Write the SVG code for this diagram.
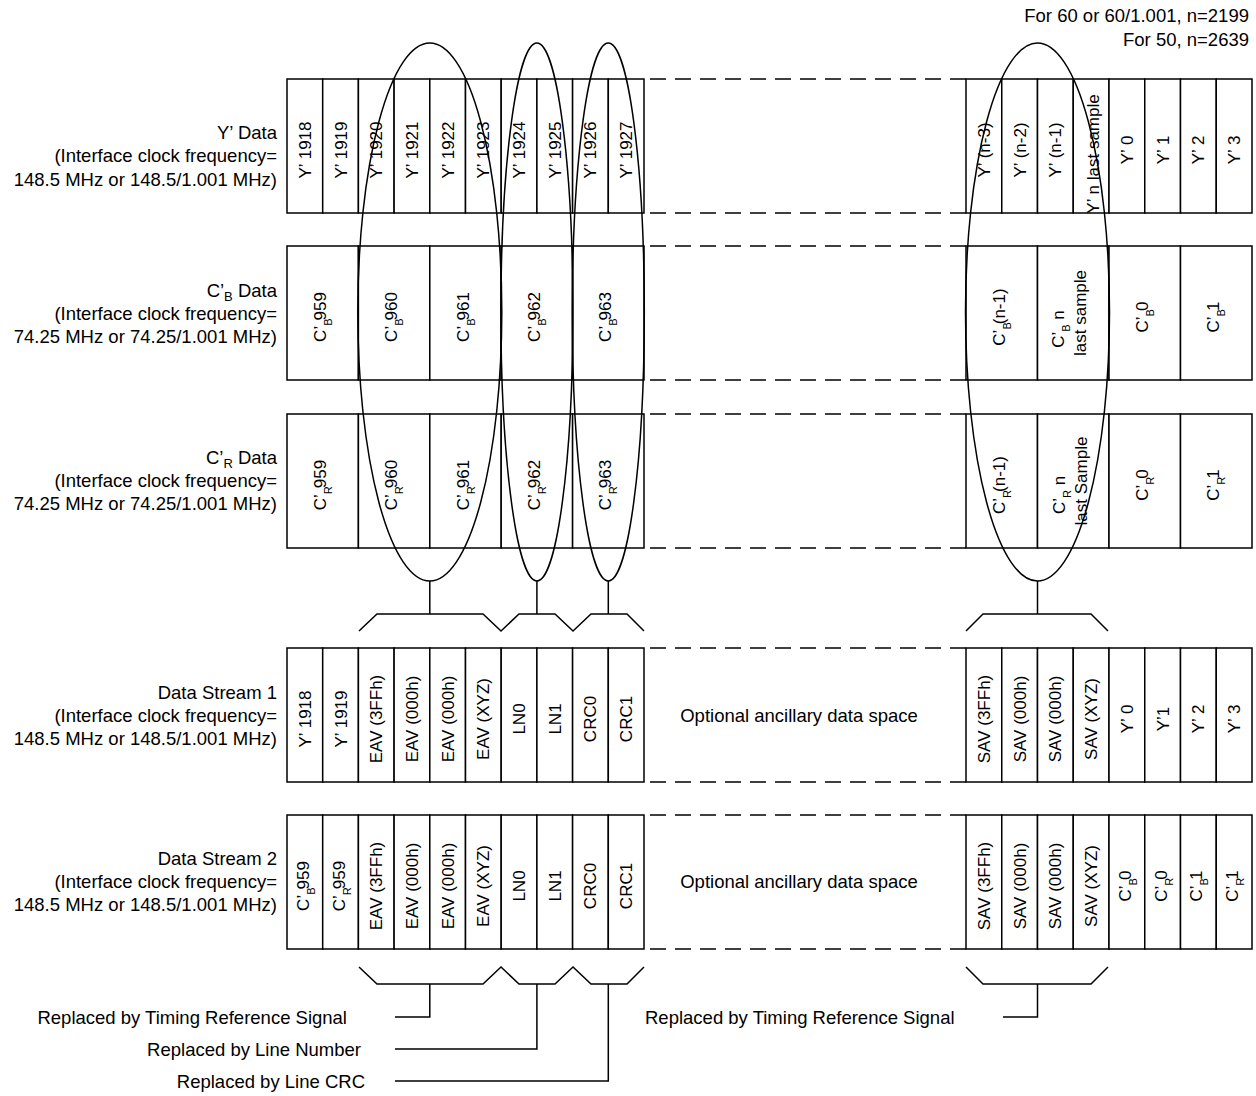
<svg xmlns="http://www.w3.org/2000/svg" width="1256" height="1096" viewBox="0 0 1256 1096">
<style>
.c{fill:#fff;stroke:#000;stroke-width:1.5}
.t{font-family:"Liberation Sans",Arial,sans-serif;font-size:17px;text-anchor:middle;fill:#000}
.l{font-family:"Liberation Sans",Arial,sans-serif;font-size:18.5px;text-anchor:end;fill:#000}
.m{font-family:"Liberation Sans",Arial,sans-serif;font-size:18.5px;text-anchor:middle;fill:#000}
.st{font-family:"Liberation Sans",Arial,sans-serif;font-size:18.5px;text-anchor:start;fill:#000}
.s{font-size:11px}
.d{stroke:#000;stroke-width:1.5;stroke-dasharray:16 9;fill:none}
.k{stroke:#000;stroke-width:1.5;fill:none}
</style>
<rect x="0" y="0" width="1256" height="1096" fill="#fff"/>

<g id="note">
<text class="l" x="1249" y="22">For 60 or 60/1.001, n=2199</text>
<text class="l" x="1249" y="46">For 50, n=2639</text>
</g>

<g id="labels">
<text class="l" x="277" y="139">Y’ Data</text>
<text class="l" x="277" y="162">(Interface clock frequency=</text>
<text class="l" x="277" y="186">148.5 MHz or 148.5/1.001 MHz)</text>
<text class="l" x="277" y="297">C’<tspan font-size="13" dy="4">B</tspan><tspan dy="-4"> Data</tspan></text>
<text class="l" x="277" y="320">(Interface clock frequency=</text>
<text class="l" x="277" y="343">74.25 MHz or 74.25/1.001 MHz)</text>
<text class="l" x="277" y="464">C’<tspan font-size="13" dy="4">R</tspan><tspan dy="-4"> Data</tspan></text>
<text class="l" x="277" y="487">(Interface clock frequency=</text>
<text class="l" x="277" y="510">74.25 MHz or 74.25/1.001 MHz)</text>
<text class="l" x="277" y="699">Data Stream 1</text>
<text class="l" x="277" y="722">(Interface clock frequency=</text>
<text class="l" x="277" y="745">148.5 MHz or 148.5/1.001 MHz)</text>
<text class="l" x="277" y="865">Data Stream 2</text>
<text class="l" x="277" y="888">(Interface clock frequency=</text>
<text class="l" x="277" y="911">148.5 MHz or 148.5/1.001 MHz)</text>
</g>

<!-- Y' data row -->
<g id="row-y">
<g id="y1918"><rect class="c" x="287" y="79" width="35.7" height="134"/><text class="t" transform="translate(310.85,150) rotate(-90)">Y’ 1918</text></g>
<g id="y1919"><rect class="c" x="322.7" y="79" width="35.7" height="134"/><text class="t" transform="translate(346.55,150) rotate(-90)">Y’ 1919</text></g>
<g id="y1920"><rect class="c" x="358.4" y="79" width="35.7" height="134"/><text class="t" transform="translate(382.25,150) rotate(-90)">Y’ 1920</text></g>
<g id="y1921"><rect class="c" x="394.1" y="79" width="35.7" height="134"/><text class="t" transform="translate(417.95,150) rotate(-90)">Y’ 1921</text></g>
<g id="y1922"><rect class="c" x="429.8" y="79" width="35.7" height="134"/><text class="t" transform="translate(453.65,150) rotate(-90)">Y’ 1922</text></g>
<g id="y1923"><rect class="c" x="465.5" y="79" width="35.7" height="134"/><text class="t" transform="translate(489.35,150) rotate(-90)">Y’ 1923</text></g>
<g id="y1924"><rect class="c" x="501.2" y="79" width="35.7" height="134"/><text class="t" transform="translate(525.05,150) rotate(-90)">Y’ 1924</text></g>
<g id="y1925"><rect class="c" x="536.9" y="79" width="35.7" height="134"/><text class="t" transform="translate(560.75,150) rotate(-90)">Y’ 1925</text></g>
<g id="y1926"><rect class="c" x="572.6" y="79" width="35.7" height="134"/><text class="t" transform="translate(596.45,150) rotate(-90)">Y’ 1926</text></g>
<g id="y1927"><rect class="c" x="608.3" y="79" width="35.7" height="134"/><text class="t" transform="translate(632.15,150) rotate(-90)">Y’ 1927</text></g>
<g id="yn3"><rect class="c" x="966" y="79" width="35.75" height="134"/><text class="t" transform="translate(989.9,150) rotate(-90)">Y’ (n-3)</text></g>
<g id="yn2"><rect class="c" x="1001.75" y="79" width="35.75" height="134"/><text class="t" transform="translate(1025.6,150) rotate(-90)">Y’ (n-2)</text></g>
<g id="yn1"><rect class="c" x="1037.5" y="79" width="35.75" height="134"/><text class="t" transform="translate(1061.4,150) rotate(-90)">Y’ (n-1)</text></g>
<g id="yn"><rect class="c" x="1073.25" y="79" width="35.75" height="134"/><text class="t" transform="translate(1099,154) rotate(-90)">Y’ n last sample</text></g>
<g id="y0"><rect class="c" x="1109" y="79" width="35.75" height="134"/><text class="t" transform="translate(1132.9,150) rotate(-90)">Y’ 0</text></g>
<g id="y1"><rect class="c" x="1144.75" y="79" width="35.75" height="134"/><text class="t" transform="translate(1168.6,150) rotate(-90)">Y’ 1</text></g>
<g id="y2"><rect class="c" x="1180.5" y="79" width="35.75" height="134"/><text class="t" transform="translate(1204.4,150) rotate(-90)">Y’ 2</text></g>
<g id="y3"><rect class="c" x="1216.25" y="79" width="35.75" height="134"/><text class="t" transform="translate(1240.1,150) rotate(-90)">Y’ 3</text></g>
</g>

<!-- C'B data row -->
<g id="row-cb">
<g id="cb959"><rect class="c" x="287" y="246" width="71.4" height="134"/><text class="t" transform="translate(325.7,317) rotate(-90)">C’<tspan class="s" dy="6">B</tspan><tspan dy="-6" dx="-2">959</tspan></text></g>
<g id="cb960"><rect class="c" x="358.4" y="246" width="71.4" height="134"/><text class="t" transform="translate(397.1,317) rotate(-90)">C’<tspan class="s" dy="6">B</tspan><tspan dy="-6" dx="-2">960</tspan></text></g>
<g id="cb961"><rect class="c" x="429.8" y="246" width="71.4" height="134"/><text class="t" transform="translate(468.5,317) rotate(-90)">C’<tspan class="s" dy="6">B</tspan><tspan dy="-6" dx="-2">961</tspan></text></g>
<g id="cb962"><rect class="c" x="501.2" y="246" width="71.4" height="134"/><text class="t" transform="translate(539.9,317) rotate(-90)">C’<tspan class="s" dy="6">B</tspan><tspan dy="-6" dx="-2">962</tspan></text></g>
<g id="cb963"><rect class="c" x="572.6" y="246" width="71.4" height="134"/><text class="t" transform="translate(611.3,317) rotate(-90)">C’<tspan class="s" dy="6">B</tspan><tspan dy="-6" dx="-2">963</tspan></text></g>
<g id="cbn1"><rect class="c" x="966" y="246" width="71.5" height="134"/><text class="t" transform="translate(1004.75,317) rotate(-90)">C’<tspan class="s" dy="6">B</tspan><tspan dy="-6" dx="-2">(n-1)</tspan></text></g>
<g id="cbn"><rect class="c" x="1037.5" y="246" width="71.5" height="134"/><text class="t" transform="translate(1064,329) rotate(-90)">C’<tspan class="s" dy="6">B</tspan><tspan dy="-6"> n</tspan></text><text class="t" transform="translate(1086,313) rotate(-90)">last sample</text></g>
<g id="cb0"><rect class="c" x="1109" y="246" width="71.5" height="134"/><text class="t" transform="translate(1147.75,317) rotate(-90)">C’<tspan class="s" dy="6">B</tspan><tspan dy="-6" dx="-2">0</tspan></text></g>
<g id="cb1"><rect class="c" x="1180.5" y="246" width="71.5" height="134"/><text class="t" transform="translate(1219.25,317) rotate(-90)">C’<tspan class="s" dy="6">B</tspan><tspan dy="-6" dx="-2">1</tspan></text></g>
</g>

<!-- C'R data row -->
<g id="row-cr">
<g id="cr959"><rect class="c" x="287" y="414" width="71.4" height="134"/><text class="t" transform="translate(325.7,485) rotate(-90)">C’<tspan class="s" dy="6">R</tspan><tspan dy="-6" dx="-2">959</tspan></text></g>
<g id="cr960"><rect class="c" x="358.4" y="414" width="71.4" height="134"/><text class="t" transform="translate(397.1,485) rotate(-90)">C’<tspan class="s" dy="6">R</tspan><tspan dy="-6" dx="-2">960</tspan></text></g>
<g id="cr961"><rect class="c" x="429.8" y="414" width="71.4" height="134"/><text class="t" transform="translate(468.5,485) rotate(-90)">C’<tspan class="s" dy="6">R</tspan><tspan dy="-6" dx="-2">961</tspan></text></g>
<g id="cr962"><rect class="c" x="501.2" y="414" width="71.4" height="134"/><text class="t" transform="translate(539.9,485) rotate(-90)">C’<tspan class="s" dy="6">R</tspan><tspan dy="-6" dx="-2">962</tspan></text></g>
<g id="cr963"><rect class="c" x="572.6" y="414" width="71.4" height="134"/><text class="t" transform="translate(611.3,485) rotate(-90)">C’<tspan class="s" dy="6">R</tspan><tspan dy="-6" dx="-2">963</tspan></text></g>
<g id="crn1"><rect class="c" x="966" y="414" width="71.5" height="134"/><text class="t" transform="translate(1004.75,485) rotate(-90)">C’<tspan class="s" dy="6">R</tspan><tspan dy="-6" dx="-2">(n-1)</tspan></text></g>
<g id="crn"><rect class="c" x="1037.5" y="414" width="71.5" height="134"/><text class="t" transform="translate(1065,495) rotate(-90)">C’<tspan class="s" dy="6">R</tspan><tspan dy="-6"> n</tspan></text><text class="t" transform="translate(1087,481) rotate(-90)">last Sample</text></g>
<g id="cr0"><rect class="c" x="1109" y="414" width="71.5" height="134"/><text class="t" transform="translate(1147.75,485) rotate(-90)">C’<tspan class="s" dy="6">R</tspan><tspan dy="-6" dx="-2">0</tspan></text></g>
<g id="cr1"><rect class="c" x="1180.5" y="414" width="71.5" height="134"/><text class="t" transform="translate(1219.25,485) rotate(-90)">C’<tspan class="s" dy="6">R</tspan><tspan dy="-6" dx="-2">1</tspan></text></g>
</g>

<!-- Data stream 1 -->
<g id="row-ds1">
<g id="ds1-y1918"><rect class="c" x="287" y="648" width="35.7" height="134"/><text class="t" transform="translate(310.85,719) rotate(-90)">Y’ 1918</text></g>
<g id="ds1-y1919"><rect class="c" x="322.7" y="648" width="35.7" height="134"/><text class="t" transform="translate(346.55,719) rotate(-90)">Y’ 1919</text></g>
<g id="ds1-eav1"><rect class="c" x="358.4" y="648" width="35.7" height="134"/><text class="t" transform="translate(382.25,719) rotate(-90)">EAV (3FFh)</text></g>
<g id="ds1-eav2"><rect class="c" x="394.1" y="648" width="35.7" height="134"/><text class="t" transform="translate(417.95,719) rotate(-90)">EAV (000h)</text></g>
<g id="ds1-eav3"><rect class="c" x="429.8" y="648" width="35.7" height="134"/><text class="t" transform="translate(453.65,719) rotate(-90)">EAV (000h)</text></g>
<g id="ds1-eav4"><rect class="c" x="465.5" y="648" width="35.7" height="134"/><text class="t" transform="translate(489.35,719) rotate(-90)">EAV (XYZ)</text></g>
<g id="ds1-ln0"><rect class="c" x="501.2" y="648" width="35.7" height="134"/><text class="t" transform="translate(525.05,719) rotate(-90)">LN0</text></g>
<g id="ds1-ln1"><rect class="c" x="536.9" y="648" width="35.7" height="134"/><text class="t" transform="translate(560.75,719) rotate(-90)">LN1</text></g>
<g id="ds1-crc0"><rect class="c" x="572.6" y="648" width="35.7" height="134"/><text class="t" transform="translate(596.45,719) rotate(-90)">CRC0</text></g>
<g id="ds1-crc1"><rect class="c" x="608.3" y="648" width="35.7" height="134"/><text class="t" transform="translate(632.15,719) rotate(-90)">CRC1</text></g>
<text class="m" x="799" y="722">Optional ancillary data space</text>
<g id="ds1-sav1"><rect class="c" x="966" y="648" width="35.75" height="134"/><text class="t" transform="translate(989.9,719) rotate(-90)">SAV (3FFh)</text></g>
<g id="ds1-sav2"><rect class="c" x="1001.75" y="648" width="35.75" height="134"/><text class="t" transform="translate(1025.6,719) rotate(-90)">SAV (000h)</text></g>
<g id="ds1-sav3"><rect class="c" x="1037.5" y="648" width="35.75" height="134"/><text class="t" transform="translate(1061.4,719) rotate(-90)">SAV (000h)</text></g>
<g id="ds1-sav4"><rect class="c" x="1073.25" y="648" width="35.75" height="134"/><text class="t" transform="translate(1097.1,719) rotate(-90)">SAV (XYZ)</text></g>
<g id="ds1-y0"><rect class="c" x="1109" y="648" width="35.75" height="134"/><text class="t" transform="translate(1132.9,719) rotate(-90)">Y’ 0</text></g>
<g id="ds1-y1"><rect class="c" x="1144.75" y="648" width="35.75" height="134"/><text class="t" transform="translate(1168.6,719) rotate(-90)">Y’1</text></g>
<g id="ds1-y2"><rect class="c" x="1180.5" y="648" width="35.75" height="134"/><text class="t" transform="translate(1204.4,719) rotate(-90)">Y’ 2</text></g>
<g id="ds1-y3"><rect class="c" x="1216.25" y="648" width="35.75" height="134"/><text class="t" transform="translate(1240.1,719) rotate(-90)">Y’ 3</text></g>
</g>

<!-- Data stream 2 -->
<g id="row-ds2">
<g id="ds2-cb959"><rect class="c" x="287" y="815" width="35.7" height="134"/><text class="t" transform="translate(308.85,886) rotate(-90)">C’<tspan class="s" dy="6">B</tspan><tspan dy="-6" dx="-2">959</tspan></text></g>
<g id="ds2-cr959"><rect class="c" x="322.7" y="815" width="35.7" height="134"/><text class="t" transform="translate(344.55,886) rotate(-90)">C’<tspan class="s" dy="6">R</tspan><tspan dy="-6" dx="-2">959</tspan></text></g>
<g id="ds2-eav1"><rect class="c" x="358.4" y="815" width="35.7" height="134"/><text class="t" transform="translate(382.25,886) rotate(-90)">EAV (3FFh)</text></g>
<g id="ds2-eav2"><rect class="c" x="394.1" y="815" width="35.7" height="134"/><text class="t" transform="translate(417.95,886) rotate(-90)">EAV (000h)</text></g>
<g id="ds2-eav3"><rect class="c" x="429.8" y="815" width="35.7" height="134"/><text class="t" transform="translate(453.65,886) rotate(-90)">EAV (000h)</text></g>
<g id="ds2-eav4"><rect class="c" x="465.5" y="815" width="35.7" height="134"/><text class="t" transform="translate(489.35,886) rotate(-90)">EAV (XYZ)</text></g>
<g id="ds2-ln0"><rect class="c" x="501.2" y="815" width="35.7" height="134"/><text class="t" transform="translate(525.05,886) rotate(-90)">LN0</text></g>
<g id="ds2-ln1"><rect class="c" x="536.9" y="815" width="35.7" height="134"/><text class="t" transform="translate(560.75,886) rotate(-90)">LN1</text></g>
<g id="ds2-crc0"><rect class="c" x="572.6" y="815" width="35.7" height="134"/><text class="t" transform="translate(596.45,886) rotate(-90)">CRC0</text></g>
<g id="ds2-crc1"><rect class="c" x="608.3" y="815" width="35.7" height="134"/><text class="t" transform="translate(632.15,886) rotate(-90)">CRC1</text></g>
<text class="m" x="799" y="888">Optional ancillary data space</text>
<g id="ds2-sav1"><rect class="c" x="966" y="815" width="35.75" height="134"/><text class="t" transform="translate(989.9,886) rotate(-90)">SAV (3FFh)</text></g>
<g id="ds2-sav2"><rect class="c" x="1001.75" y="815" width="35.75" height="134"/><text class="t" transform="translate(1025.6,886) rotate(-90)">SAV (000h)</text></g>
<g id="ds2-sav3"><rect class="c" x="1037.5" y="815" width="35.75" height="134"/><text class="t" transform="translate(1061.4,886) rotate(-90)">SAV (000h)</text></g>
<g id="ds2-sav4"><rect class="c" x="1073.25" y="815" width="35.75" height="134"/><text class="t" transform="translate(1097.1,886) rotate(-90)">SAV (XYZ)</text></g>
<g id="ds2-cb0"><rect class="c" x="1109" y="815" width="35.75" height="134"/><text class="t" transform="translate(1130.9,886) rotate(-90)">C’<tspan class="s" dy="6">B</tspan><tspan dy="-6" dx="-2">0</tspan></text></g>
<g id="ds2-cr0"><rect class="c" x="1144.75" y="815" width="35.75" height="134"/><text class="t" transform="translate(1166.6,886) rotate(-90)">C’<tspan class="s" dy="6">R</tspan><tspan dy="-6" dx="-2">0</tspan></text></g>
<g id="ds2-cb1"><rect class="c" x="1180.5" y="815" width="35.75" height="134"/><text class="t" transform="translate(1202.4,886) rotate(-90)">C’<tspan class="s" dy="6">B</tspan><tspan dy="-6" dx="-2">1</tspan></text></g>
<g id="ds2-cr1"><rect class="c" x="1216.25" y="815" width="35.75" height="134"/><text class="t" transform="translate(1238.1,886) rotate(-90)">C’<tspan class="s" dy="6">R</tspan><tspan dy="-6" dx="-2">1</tspan></text></g>
</g>

<g id="gaps">
<path class="d" d="M650,79H966M650,213H966M650,246H966M650,380H966M650,414H966M650,548H966M650,648H966M650,782H966M650,815H966M650,949H966"/>
</g>

<g id="connectors">
<ellipse class="k" cx="429.8" cy="312" rx="72" ry="269"/>
<ellipse class="k" cx="536.9" cy="312" rx="36" ry="269"/>
<ellipse class="k" cx="608.3" cy="312" rx="36" ry="269"/>
<ellipse class="k" cx="1037.5" cy="312" rx="72" ry="269"/>
<path class="k" d="M429.8,581V614M536.9,581V614M608.3,581V614M1037.5,581V614"/>
<polyline class="k" points="359,631 377,614 483,614 501,631 519,614 555,614 573,631 591,614 627,614 644,631"/>
<polyline class="k" points="966,631 983,614 1091,614 1108,631"/>
<polyline class="k" points="359,967 377,984 483,984 501,967 519,984 555,984 573,967 591,984 627,984 644,967"/>
<polyline class="k" points="966,967 983,984 1091,984 1108,967"/>
<path class="k" d="M429.8,984V1017H395M536.9,984V1049H395M608.3,984V1081H395M1037.5,984V1017H1003"/>
</g>

<g id="notes-bottom">
<text class="l" x="347" y="1024">Replaced by Timing Reference Signal</text>
<text class="l" x="361" y="1056">Replaced by Line Number</text>
<text class="l" x="365" y="1088">Replaced by Line CRC</text>
<text class="st" x="645" y="1024">Replaced by Timing Reference Signal</text>
</g>
</svg>
